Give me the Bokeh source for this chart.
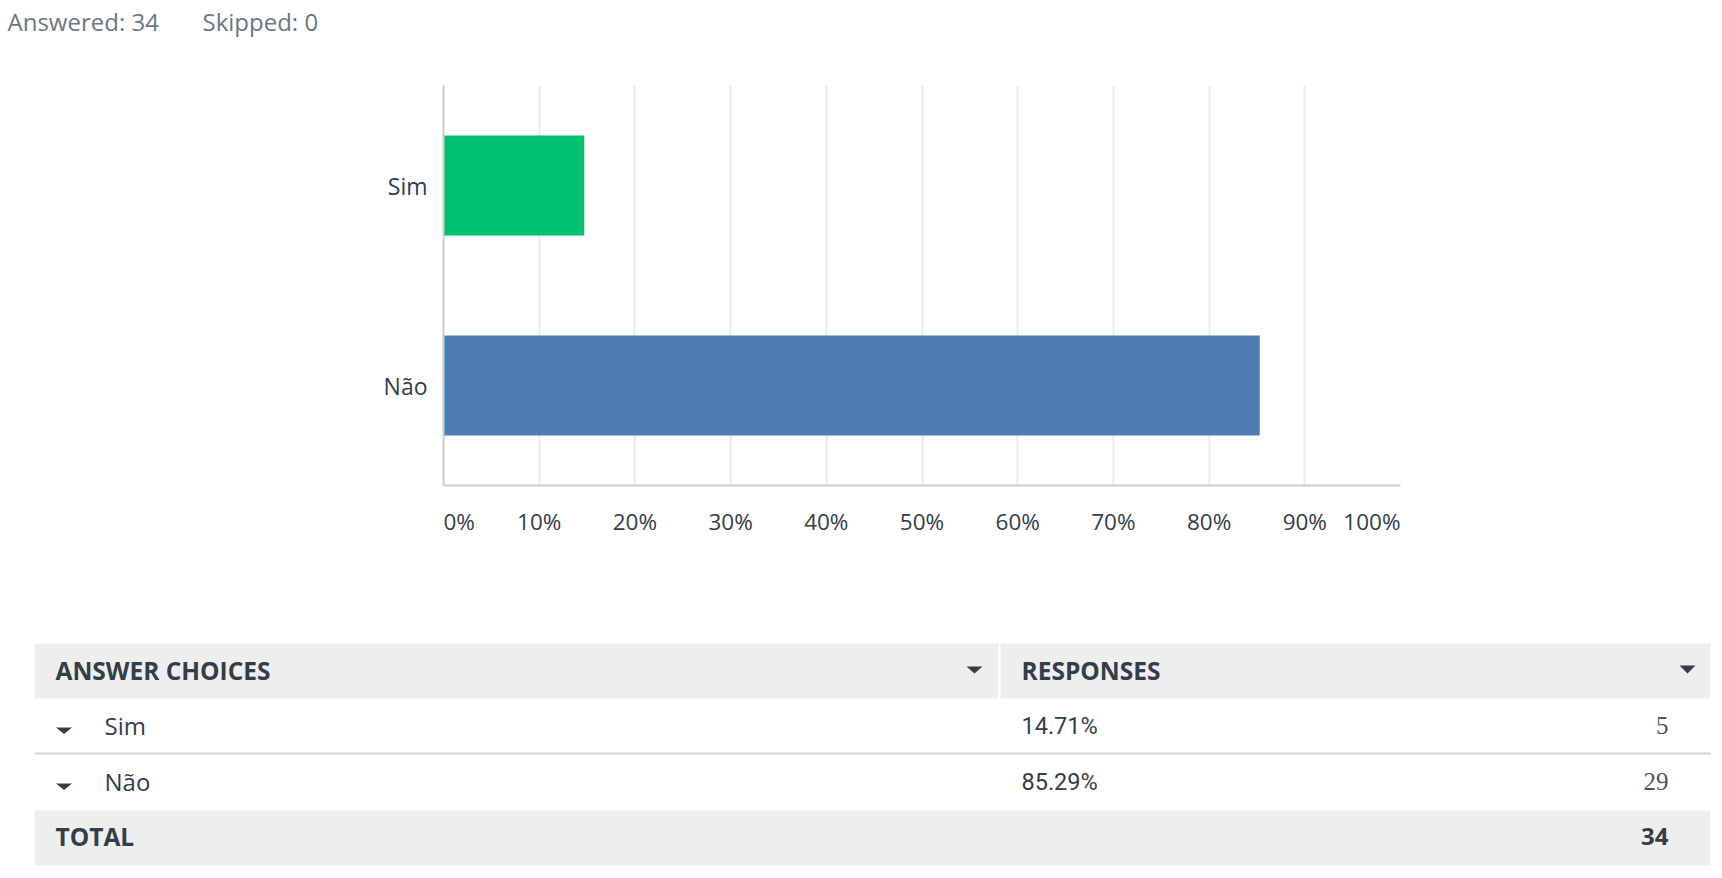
from bokeh.plotting import figure
from bokeh.layouts import column
from bokeh.models import Range1d, FactorRange, FixedTicker, ColumnDataSource
from bokeh.core.properties import value, field
from bokeh.embed import file_html
from bokeh.resources import INLINE

# ---------------- data ----------------
answered = 34
skipped = 0
choices = ["Sim", "Não"]
percents = [14.71, 85.29]
counts = [5, 29]
total = 34
tick_values = [0, 10, 20, 30, 40, 50, 60, 70, 80, 90, 100]
tick_labels = ["0%", "10%", "20%", "30%", "40%", "50%", "60%", "70%", "80%", "90%", "100%"]
bar_colors = ["#00bf6f", "#507cb6"]
table_headers = ["ANSWER CHOICES", "RESPONSES"]
total_label = "TOTAL"

# ---------------- style ----------------
W = 1722
FONT = "Open Sans"
TXT = "#333e48"
GREY_TXT = "#6b787f"
ROW_BG = "#edeeee"
FRAME_L, FRAME_R = 443, 322
BL = 11  # baseline correction for alphabetic text placement


def blank(height, y0):
    f = figure(width=W, height=height, x_range=Range1d(0, W), y_range=Range1d(y0 + height, y0),
               output_backend="svg", toolbar_location=None, min_border=0,
               x_axis_type=None, y_axis_type=None, outline_line_color=None, frame_align=False)
    f.margin = (0, 0, 0, 0)
    return f


# ---------------- header ----------------
head = blank(60, 0)
head.text(x=[7, 202], y=[32 - BL, 32 - BL], text=[f"Answered: {answered}", f"Skipped: {skipped}"],
          text_font=value(FONT), text_font_size="24px", text_color=GREY_TXT,
          text_baseline="alphabetic", text_align="left")

# ---------------- chart ----------------
p = figure(width=W, height=445, x_range=Range1d(0, 100), y_range=FactorRange(*reversed(choices)),
           output_backend="svg", toolbar_location=None,
           min_border_left=FRAME_L, min_border_right=FRAME_R, min_border_top=25, min_border_bottom=20,
           outline_line_color=None, frame_align=False)
p.margin = (0, 0, 0, 0)

src = ColumnDataSource(dict(y=choices, right=percents, color=bar_colors))
p.hbar(y="y", left=0, right="right", height=0.5, fill_color="color", line_color=None, source=src)

p.ygrid.visible = False
p.xgrid.ticker = FixedTicker(ticks=tick_values)
p.xgrid.grid_line_color = "#ebebeb"
p.xgrid.grid_line_width = 2

p.xaxis.ticker = FixedTicker(ticks=[])
p.xaxis.axis_line_color = "#cccccc"
p.xaxis.axis_line_width = 2
p.xaxis.major_tick_line_color = None
p.xaxis.minor_tick_line_color = None

p.yaxis.axis_line_color = "#cccccc"
p.yaxis.axis_line_width = 2
p.yaxis.major_tick_line_color = None
p.yaxis.minor_tick_line_color = None
p.yaxis.major_label_standoff = 10
p.yaxis.major_label_text_font = FONT
p.yaxis.major_label_text_font_size = "23px"
p.yaxis.major_label_text_color = TXT

# ---------------- x tick labels (same x scale as chart) ----------------
lab = figure(width=W, height=32, x_range=p.x_range, y_range=Range1d(0, 1),
             output_backend="svg", toolbar_location=None,
             min_border_left=FRAME_L, min_border_right=FRAME_R, min_border_top=0, min_border_bottom=0,
             x_axis_type=None, y_axis_type=None, outline_line_color=None, frame_align=False)
lab.margin = (0, 0, 0, 0)
aligns = ["left"] + ["center"] * (len(tick_values) - 2) + ["right"]
tsrc = ColumnDataSource(dict(x=tick_values, y=[0.5] * len(tick_values), text=tick_labels, align=aligns))
lab.text(x="x", y="y", text="text", source=tsrc, text_align=field("align"), text_baseline="middle",
         text_font=value(FONT), text_font_size="22.5px", text_color=TXT)

# ---------------- table ----------------
TB_TOP = 60 + 445 + 32
tb = blank(870 - TB_TOP, TB_TOP)
TL, TR, DIV = 34, 1710, 999
HEAD_TOP, HEAD_H, ROW_H = 643, 55, 56
C1_X, C1_TXT, C2_X, NUM_R = 55, 104, 1021, 1668

# header row
tb.quad(left=[TL, DIV + 1], right=[DIV - 1, TR], top=[HEAD_TOP] * 2, bottom=[HEAD_TOP + HEAD_H] * 2,
        fill_color=ROW_BG, line_color=None)
tb.text(x=[C1_X, C2_X], y=[HEAD_TOP + 38 - BL] * 2, text=table_headers, text_font=value(FONT),
        text_font_size="24.5px", text_font_style="bold", text_color=TXT, text_baseline="alphabetic")
# header sort triangles
hy = HEAD_TOP + 23
tb.patches(xs=[[966, 982, 974], [1679, 1695, 1687]], ys=[[hy, hy, hy + 7], [hy - 1, hy - 1, hy + 7]],
           fill_color=TXT, line_color=None)

body_top = HEAD_TOP + HEAD_H
n = len(choices)
row_tops = [body_top + i * ROW_H for i in range(n)]
tb.text(x=[C1_TXT] * n, y=[t + 38 - BL for t in row_tops], text=choices, text_font=value(FONT),
        text_font_size="24px", text_color=TXT, text_baseline="alphabetic")
tb.text(x=[C2_X] * n, y=[t + 38 - BL for t in row_tops], text=[f"{v:.2f}%" for v in percents],
        text_font=value("Roboto"), text_font_size="23.5px", text_color=TXT, text_baseline="alphabetic")
tb.text(x=[NUM_R] * n, y=[t + 38 - BL for t in row_tops], text=[str(c) for c in counts],
        text_font=value("Liberation Serif"), text_font_size="25px", text_color="#555555",
        text_baseline="alphabetic", text_align="right")
tb.patches(xs=[[55.5, 71.5, 63.5] for _ in row_tops], ys=[[t + 29, t + 29, t + 35.5] for t in row_tops],
           fill_color=TXT, line_color=None)
# row dividers
tb.segment(x0=[TL] * (n - 1), x1=[TR] * (n - 1), y0=[t + ROW_H - 1 for t in row_tops[:-1]],
           y1=[t + ROW_H - 1 for t in row_tops[:-1]], line_color="#d5d5d5", line_width=2)

# total row
tot_top = body_top + n * ROW_H
tb.quad(left=[TL], right=[TR], top=[tot_top], bottom=[tot_top + HEAD_H], fill_color=ROW_BG, line_color=None)
tb.text(x=[C1_X], y=[tot_top + 37 - BL], text=[total_label], text_font=value(FONT), text_font_size="24.5px",
        text_font_style="bold", text_color=TXT, text_baseline="alphabetic")
tb.text(x=[NUM_R], y=[tot_top + 37 - BL], text=[str(total)], text_font=value(FONT), text_font_size="24px",
        text_font_style="bold", text_color=TXT, text_baseline="alphabetic", text_align="right")

layout = column(head, p, lab, tb, spacing=0)
layout.margin = (0, 0, 0, 0)
open("out.html", "w").write(file_html(layout, INLINE))
